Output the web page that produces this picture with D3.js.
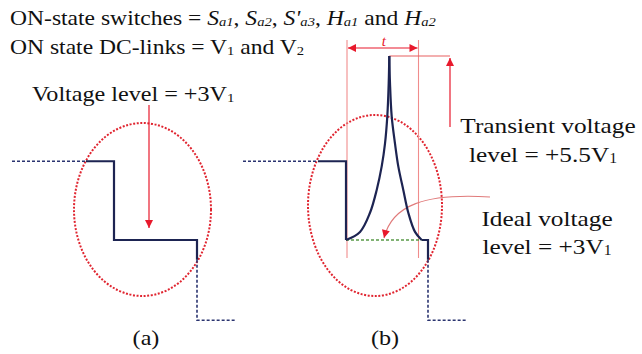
<!DOCTYPE html>
<html><head><meta charset="utf-8">
<script src="https://cdn.jsdelivr.net/npm/d3@7"></script>
<style>html,body{margin:0;padding:0;background:#fff;}svg{display:block;}
text{font-family:"Liberation Serif","Times New Roman",Times,"DejaVu Serif",serif;}</style>
</head><body>
<script>
// ---------- data (time in arbitrary units, voltage in multiples of V1) ----------
const panelLabels = ["(a)", "(b)"];
const levelHigh = 4.07, levelIdeal = 3.0, levelLow = 1.91, levelPeak = 5.5;
// panel (a)
const waveA_dashHigh = [[0, 4.07], [7.4, 4.07]];
const waveA_solid = [[7.4, 4.07], [10.2, 4.07], [10.2, 3.0], [18.5, 3.0], [18.5, 2.73]];
const waveA_dashLow = [[18.5, 2.73], [18.5, 1.91], [22.3, 1.91]];
// panel (b)
const waveB_dashHigh = [[0, 4.07], [7.5, 4.07]];
const waveB_solid = [[7.5, 4.07], [10.3, 4.07], [10.3, 3.0]];
const spikeRise = [[10.3, 3.0], [11.7, 3.11], [12.7, 3.37], [13.37, 3.68], [13.87, 4.0], [14.2, 4.31], [14.43, 4.68], [14.57, 5.13], [14.63, 5.5]];
const spikeFall = [[14.63, 5.5], [14.7, 5.13], [14.87, 4.68], [15.2, 4.31], [15.53, 4.0], [16.03, 3.68], [16.53, 3.37], [17.2, 3.11], [17.87, 3.0]];
const waveB_tail = [[17.87, 3.0], [18.5, 3.0], [18.5, 2.73]];
const waveB_dashLow = [[18.5, 2.73], [18.5, 1.91], [22.4, 1.91]];
const idealLevel = [[10.3, 3.0], [17.87, 3.0]];
const transientWindow = [10.4, 17.55];
const peakMarkerEnd = 20.7;

// ---------- layout ----------
const W = 642, H = 354;
const svg = d3.select("body").append("svg").attr("width", W).attr("height", H);
const defs = svg.append("defs");
function marker(id, color) {
  defs.append("marker").attr("id", id).attr("viewBox", "0 0 10 10").attr("refX", 10).attr("refY", 5)
    .attr("markerWidth", 9).attr("markerHeight", 8).attr("markerUnits", "userSpaceOnUse").attr("orient", "auto-start-reverse")
    .append("path").attr("d", "M0,0 L10,5 L0,10 Z").attr("fill", color);
}
marker("arr", "#e8192c");

const xA = d3.scaleLinear().domain([0, 22.4]).range([12, 236]);
const xB = d3.scaleLinear().domain([0, 22.4]).range([243, 467]);
const y = d3.scaleLinear().domain([3, 5.5]).range([240, 56]);

const navy = "#1d2452", red = "#e8192c", pink = "#f08c8c";

function drawLine(xs, data, curve, style) {
  const gen = d3.line().x(d => xs(d[0])).y(d => y(d[1])).curve(curve || d3.curveLinear);
  const p = svg.append("path").attr("d", gen(data)).attr("fill", "none");
  Object.entries(style).forEach(([k, v]) => p.attr(k, v));
  return p;
}
const solidStyle = { stroke: navy, "stroke-width": 2.2 };
const dashStyle = { stroke: "#2b3470", "stroke-width": 1.6, "stroke-dasharray": "3,2" };

// ellipses (dotted red)
const ellStyle = (e) => e.attr("fill", "none").attr("stroke", "#e02530").attr("stroke-width", 2).attr("stroke-dasharray", "2,1.6");
ellStyle(svg.append("ellipse").attr("cx", xA(13.05)).attr("cy", 209.5).attr("rx", 68.5).attr("ry", 86.5));
ellStyle(svg.append("ellipse").attr("cx", xB(13.2)).attr("cy", 205.5).attr("rx", 67).attr("ry", 90.5));

// panel (b) thin vertical window lines
transientWindow.forEach(t => {
  svg.append("line").attr("x1", xB(t)).attr("x2", xB(t)).attr("y1", 40).attr("y2", 258)
    .attr("stroke", pink).attr("stroke-width", 1.1);
});
// t dimension arrow
svg.append("line").attr("x1", xB(transientWindow[0]) + 1).attr("x2", xB(transientWindow[1]) - 1)
  .attr("y1", 48).attr("y2", 48).attr("stroke", red).attr("stroke-width", 1.1)
  .attr("marker-start", "url(#arr)").attr("marker-end", "url(#arr)");
svg.append("text").attr("x", (xB(transientWindow[0]) + xB(transientWindow[1])) / 2 + 1).attr("y", 45.5)
  .attr("text-anchor", "middle").attr("font-style", "italic")
  .attr("font-size", 15).attr("fill", red).text("t");

// peak marker line + arrow
svg.append("line").attr("x1", xB(14.63)).attr("x2", xB(peakMarkerEnd)).attr("y1", y(levelPeak)).attr("y2", y(levelPeak))
  .attr("stroke", "#e86060").attr("stroke-width", 1.1);
svg.append("line").attr("x1", xB(peakMarkerEnd)).attr("x2", xB(peakMarkerEnd)).attr("y1", 127).attr("y2", y(levelPeak) + 2)
  .attr("stroke", red).attr("stroke-width", 1.2).attr("marker-end", "url(#arr)");

// ideal-level dashed green
drawLine(xB, idealLevel, null, { stroke: "#5a9a48", "stroke-width": 1.6, "stroke-dasharray": "3,2" });

// curved arrow to ideal level
svg.append("path").attr("d", `M490,197 C425,193 392,205 ${xB(14.1)},${y(levelIdeal) - 2}`)
  .attr("fill", "none").attr("stroke", "#e07a7a").attr("stroke-width", 1.1).attr("marker-end", "url(#arr)");

// arrow in (a)
svg.append("line").attr("x1", xA(13.7)).attr("x2", xA(13.7)).attr("y1", 105).attr("y2", 228)
  .attr("stroke", red).attr("stroke-width", 1.2).attr("marker-end", "url(#arr)");

// waveforms
drawLine(xA, waveA_dashHigh, null, dashStyle);
drawLine(xA, waveA_dashLow, null, dashStyle);
drawLine(xA, waveA_solid, null, solidStyle);
drawLine(xB, waveB_dashHigh, null, dashStyle);
drawLine(xB, waveB_dashLow, null, dashStyle);
drawLine(xB, waveB_solid, null, solidStyle);
drawLine(xB, spikeRise, d3.curveCatmullRom, solidStyle);
drawLine(xB, spikeFall, d3.curveCatmullRom, solidStyle);
drawLine(xB, waveB_tail, null, solidStyle);

// ---------- rich text ----------
const SX = 1.15;
function rich(x, yy, segs, size, anchor) {
  const g = svg.append("g").attr("transform", `translate(${x},${yy}) scale(${SX},1)`);
  const t = g.append("text").attr("font-size", size)
    .attr("fill", "#111").attr("text-anchor", anchor || "start");
  segs.forEach(s => {
    const ts = t.append("tspan").text(s.t);
    if (s.i) ts.attr("font-style", "italic");
    if (s.sub) ts.attr("font-size", size * 0.62).attr("dy", 1);
    else ts.attr("dy", s.after ? -1 : 0);
  });
}
const N = (t) => ({ t }), I = (t) => ({ t, i: true }), SUB = (t, i) => ({ t, sub: true, i });
function fix(segs) { // restore baseline after subscript
  for (let k = 1; k < segs.length; k++) if (segs[k - 1].sub && !segs[k].sub) segs[k].after = true;
  return segs;
}
rich(10, 25, fix([N("ON-state switches = "), I("S"), SUB("a1", true), N(", "), I("S"), SUB("a2", true), N(", "),
  I("S'"), SUB("a3", true), N(", "), I("H"), SUB("a1", true), N(" and "), I("H"), SUB("a2", true)]), 20.5);
rich(10, 54, fix([N("ON state DC-links = V"), SUB("1"), N(" and V"), SUB("2")]), 20.5);
rich(32, 101, fix([N("Voltage level = +3V"), SUB("1")]), 21);
rich(548, 133, [N("Transient voltage")], 22, "middle");
rich(543, 162, fix([N("level = +5.5V"), SUB("1")]), 22, "middle");
rich(547, 226, [N("Ideal voltage")], 22, "middle");
rich(547, 254, fix([N("level = +3V"), SUB("1")]), 22, "middle");
rich(146, 345, [N(panelLabels[0])], 21, "middle");
rich(385, 345, [N(panelLabels[1])], 21, "middle");
</script>
</body></html>
